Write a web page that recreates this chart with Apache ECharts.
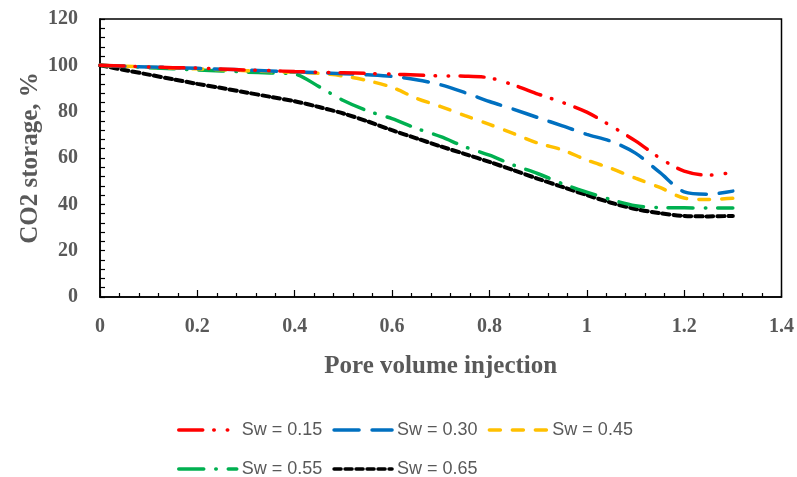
<!DOCTYPE html>
<html>
<head>
<meta charset="utf-8">
<script src="https://cdn.jsdelivr.net/npm/echarts@6/dist/echarts.min.js"></script>
<style>html,body{margin:0;padding:0;background:#fff}#c{width:797px;height:477px}</style>
</head>
<body>
<div id="c"></div>
<script>
const xs = [0, 0.05, 0.1, 0.15, 0.2, 0.25, 0.3, 0.35, 0.4, 0.45, 0.5, 0.55, 0.6, 0.65, 0.7, 0.75, 0.8, 0.85, 0.9, 0.95, 1.0, 1.05, 1.1, 1.15, 1.2, 1.25, 1.3];
const sw015 = [100, 99.7, 99.3, 99, 98.8, 98.4, 98, 97.7, 97.3, 97, 96.8, 96.5, 96.2, 95.8, 95.4, 95.3, 94.6, 91.5, 87.6, 84, 79.8, 73.8, 67.4, 60, 54.3, 52.6, 53.8];
const sw030 = [100, 99.6, 99.3, 99, 98.7, 98.3, 98, 97.6, 97.2, 96.8, 96.4, 95.9, 95.2, 93.8, 91.6, 88.2, 84.4, 81, 77.4, 73.9, 70.2, 67.2, 62.1, 53.8, 45.4, 44.4, 45.7];
const sw045 = [100, 99.6, 99.2, 98.8, 98.5, 98.1, 97.7, 97.3, 97, 96.5, 95.4, 93.4, 90.5, 85.8, 82.2, 78.3, 74.5, 70.5, 66.4, 63.5, 59.1, 55.5, 51.3, 47.3, 42.7, 42.1, 42.6];
const sw055 = [100, 99.5, 99, 98.5, 98, 97.6, 97.1, 96.7, 96.2, 90.8, 84.8, 80.3, 77, 72.8, 69.2, 64.8, 61.2, 56.9, 53.2, 48.9, 45.3, 42, 39.4, 38.6, 38.5, 38.4, 38.4];
const sw065 = [100, 98, 96, 94, 92, 90.2, 88.3, 86.4, 84.5, 82, 79.2, 75.8, 72, 68.5, 65, 61.7, 58.3, 54.7, 51, 47.5, 44, 40.7, 38, 36.2, 35, 34.8, 35];
const names = ['Sw = 0.15', 'Sw = 0.30', 'Sw = 0.45', 'Sw = 0.55', 'Sw = 0.65'];
const xTicks = {min: 0, max: 1.4, interval: 0.2};
const yTicks = {min: 0, max: 120, interval: 20};

const seriesData = [sw015, sw030, sw045, sw055, sw065];
const colors = ['#FF0000', '#0070C0', '#FFC000', '#00B050', '#000000'];
const dashes = [[24, 11, 0.5, 13, 0.5, 11], [25, 13], [11, 12], [25, 12, 0.5, 12], [7, 4]];
const widths = [3.5, 3.5, 3.5, 3.5, 4];

const serif = '"Liberation Serif", "DejaVu Serif", serif';
const sans = '"Liberation Sans", Arial, sans-serif';

const legendCommon = {
  left: 172, itemWidth: 58, itemHeight: 14, itemGap: 10,
  itemStyle: {opacity: 0},
  lineStyle: {width: 3.5, cap: 'round'},
  textStyle: {fontFamily: sans, fontSize: 18, color: '#595959'}
};

const chart = echarts.init(document.getElementById('c'), null, {renderer: 'canvas'});
chart.setOption({
  animation: false,
  backgroundColor: '#fff',
  grid: {left: 100, right: 15, top: 19, bottom: 180, show: true, borderColor: '#000', borderWidth: 1.5, backgroundColor: 'transparent'},
  legend: [
    Object.assign({data: names.slice(0, 3), top: 416}, legendCommon),
    Object.assign({data: names.slice(3), top: 455}, legendCommon)
  ],
  xAxis: {
    type: 'value', min: xTicks.min, max: xTicks.max, interval: xTicks.interval,
    name: 'Pore volume injection', nameLocation: 'middle', nameGap: 57, nameMoveOverlap: false,
    nameTextStyle: {fontFamily: serif, fontWeight: 'bold', fontSize: 25, color: '#595959'},
    axisLine: {lineStyle: {color: '#000', width: 1.5}},
    axisTick: {inside: true, length: 7, lineStyle: {color: '#000', width: 1.2}},
    minorTick: {show: true, splitNumber: 5, length: 4, lineStyle: {color: '#000', width: 1.2}},
    splitLine: {show: false},
    axisLabel: {fontFamily: serif, fontWeight: 'bold', fontSize: 20, color: '#595959', margin: 20}
  },
  yAxis: {
    type: 'value', min: yTicks.min, max: yTicks.max, interval: yTicks.interval,
    name: 'CO2 storage, %', nameLocation: 'middle', nameGap: 57, nameMoveOverlap: false,
    nameTextStyle: {fontFamily: serif, fontWeight: 'bold', fontSize: 25, color: '#595959'},
    axisLine: {lineStyle: {color: '#000', width: 1.5}},
    axisTick: {inside: true, length: 5, lineStyle: {color: '#000', width: 1.2}},
    minorTick: {show: true, splitNumber: 5, length: 5, lineStyle: {color: '#000', width: 1.2}},
    splitLine: {show: false},
    axisLabel: {fontFamily: serif, fontWeight: 'bold', fontSize: 20, color: '#595959', margin: 22}
  },
  series: seriesData.map((d, i) => ({
    name: names[i],
    type: 'line',
    data: xs.map((x, j) => [x, d[j]]),
    showSymbol: false,
    symbol: 'none',
    smooth: 0.3,
    color: colors[i],
    lineStyle: {color: colors[i], width: widths[i], type: dashes[i], cap: 'round'},
    z: 10 - i
  }))
});
</script>
</body>
</html>
